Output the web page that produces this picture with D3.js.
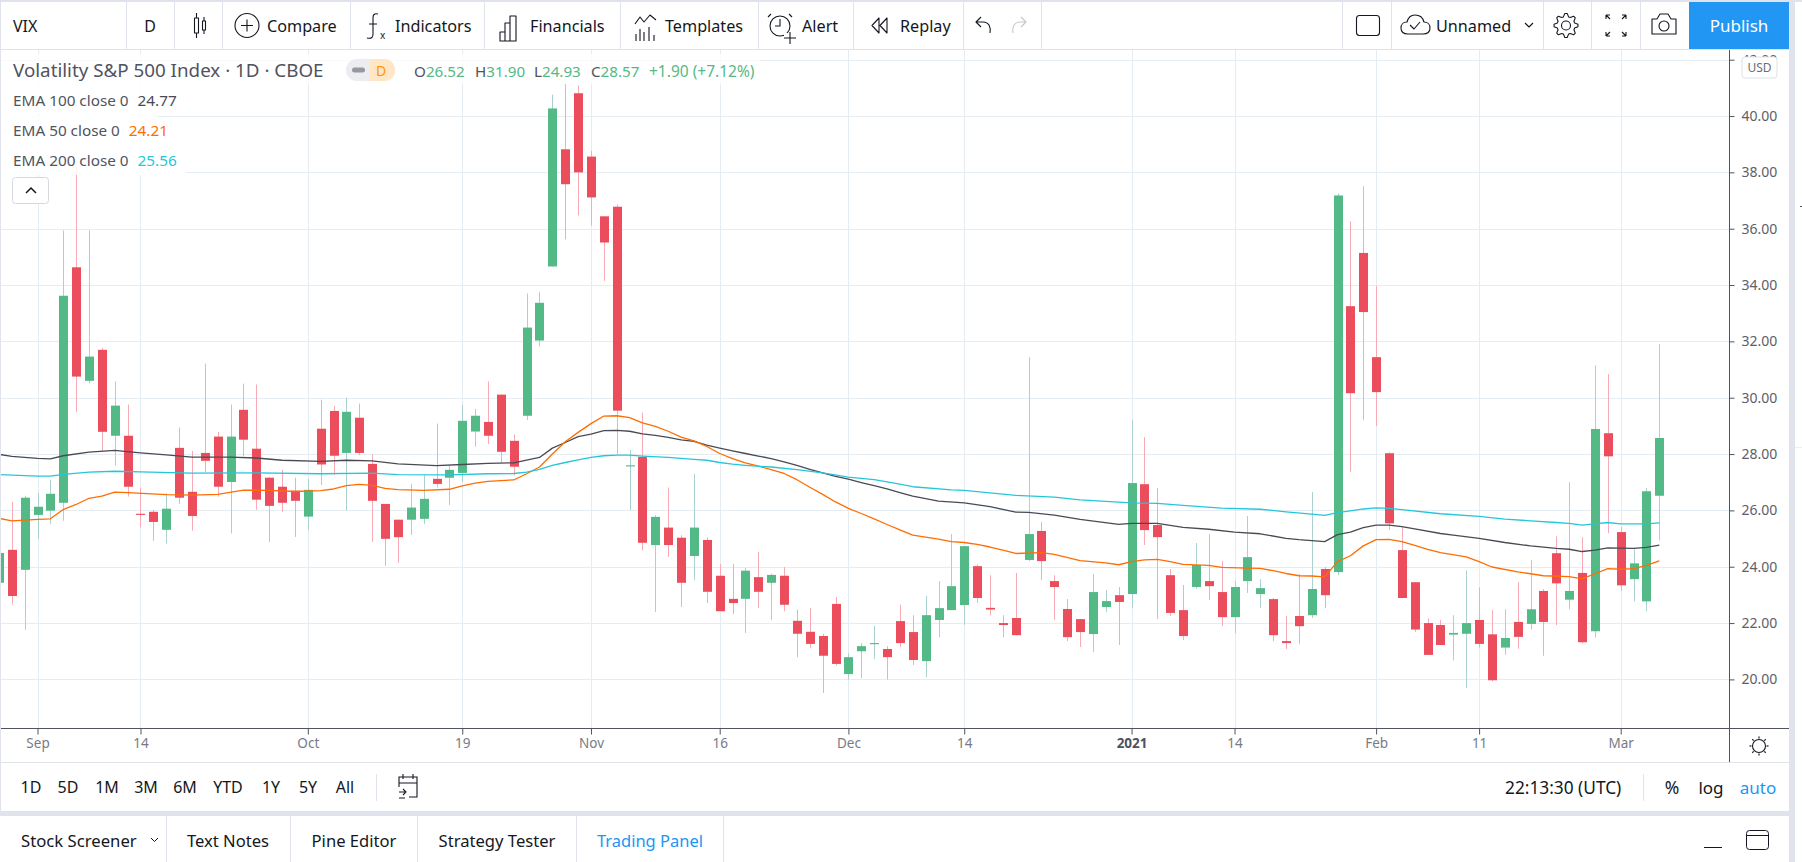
<!DOCTYPE html>
<html>
<head>
<meta charset="utf-8">
<title>VIX</title>
<script src="https://cdn.jsdelivr.net/npm/d3@7/dist/d3.min.js"></script>
<style>
html, body { margin: 0; padding: 0; background: #fff; overflow: hidden; }
svg { display: block; }
text { font-family: "Noto Sans", sans-serif; }
</style>
</head>
<body>
<div id="chart"></div>
<script>
// daily candles (bar 0 is the cut one at the left edge)
const opens = [23.43,24.60,23.89,25.84,25.99,26.27,34.63,30.60,31.70,28.65,28.65,25.88,25.95,25.31,28.22,26.66,28.04,28.62,27.01,29.57,
  28.19,27.16,26.84,26.70,25.78,28.90,29.53,28.04,29.29,27.65,26.23,25.67,25.67,25.70,27.12,27.16,27.33,28.80,29.14,30.11,
  28.47,29.36,32.03,34.66,38.82,40.81,38.56,36.44,36.78,27.56,27.90,24.77,25.39,25.03,24.38,24.95,23.68,22.86,22.86,23.63,
  23.43,23.68,22.08,21.69,21.54,22.68,20.19,21.00,21.25,21.08,22.07,21.68,20.65,22.11,22.46,22.64,24.02,22.54,22.00,22.18,
  24.24,25.27,23.49,22.50,22.14,21.61,22.57,22.99,23.03,26.93,25.48,23.70,22.46,23.28,23.49,23.10,22.21,23.49,23.03,22.85,
  21.36,22.25,22.28,23.92,23.81,33.25,35.14,31.44,28.03,24.59,23.45,22.00,21.93,21.59,21.62,22.11,21.60,21.13,22.04,21.97,
  23.14,24.48,22.83,23.78,21.71,28.74,25.23,23.56,22.77,26.52];
const highs = [24.60,26.30,26.52,26.62,27.09,35.94,38.20,35.94,31.77,30.58,29.76,26.81,26.02,26.61,28.94,28.11,31.21,28.79,29.76,30.50,
  30.47,27.18,27.44,27.16,27.12,29.93,29.72,30.00,29.79,27.99,26.23,25.67,26.94,27.25,29.08,27.60,29.74,29.60,30.58,30.11,
  28.69,33.70,33.76,40.76,41.15,41.09,38.77,36.44,36.86,28.14,29.47,25.83,26.81,25.12,27.30,25.04,24.10,24.10,23.95,24.53,
  23.75,23.99,22.48,22.54,21.62,22.93,20.93,21.29,21.90,21.18,22.65,22.28,22.96,23.49,25.16,24.73,24.08,23.70,22.28,23.78,
  31.44,25.59,23.70,22.85,22.14,23.74,23.17,23.28,29.21,28.60,26.79,23.92,23.35,24.84,25.16,24.20,23.49,25.80,23.56,22.89,
  22.25,23.74,26.65,24.00,37.25,36.26,37.51,33.97,28.06,25.41,23.45,22.17,22.11,22.28,23.87,23.27,22.46,22.49,23.45,24.24,
  23.21,25.08,27.00,25.05,31.15,30.84,25.41,24.63,26.79,31.90];
const lows = [23.40,22.66,21.76,24.99,25.52,25.63,29.49,30.51,28.10,27.59,26.49,25.40,24.92,24.82,26.23,25.28,27.37,26.49,25.18,27.92,
  26.02,24.88,25.95,25.06,25.31,26.90,27.26,25.99,27.96,24.88,24.03,24.14,25.13,25.52,26.81,26.19,27.02,28.26,28.36,27.69,
  27.24,29.21,31.82,34.66,35.62,36.47,36.11,34.15,28.00,26.01,24.58,22.39,24.35,22.57,23.53,22.71,22.42,22.32,21.65,22.54,
  22.11,22.42,20.79,21.12,19.52,20.49,19.99,20.04,20.72,19.99,21.15,20.51,20.08,21.50,22.46,21.93,22.71,22.28,21.50,21.57,
  24.20,23.53,22.11,21.36,21.15,20.97,22.39,21.22,22.53,24.77,22.14,22.25,21.40,23.21,22.82,21.89,21.64,23.07,22.53,21.36,
  21.08,21.25,22.18,22.53,23.70,27.38,29.20,28.99,25.31,22.89,21.68,20.87,21.22,20.67,19.70,21.13,19.93,20.87,21.09,21.78,
  20.84,21.93,22.49,21.29,21.49,25.19,23.14,22.77,22.42,24.93];
const closes = [24.49,22.96,26.45,26.13,26.59,33.62,30.75,31.46,28.79,29.72,26.84,25.84,25.59,26.06,26.45,25.80,27.76,26.84,28.62,28.51,
  26.38,26.16,26.27,26.34,26.73,27.63,27.94,29.50,28.04,26.34,24.99,25.05,26.10,26.41,26.94,27.44,29.18,29.36,28.65,28.08,
  27.55,32.49,33.37,40.27,37.58,38.00,37.11,35.51,29.54,27.60,24.85,25.77,24.77,23.43,25.39,23.11,22.42,22.71,23.86,23.11,
  23.71,22.65,21.62,21.26,20.84,20.55,20.79,21.18,21.29,20.79,21.29,20.69,22.28,22.53,23.31,24.73,22.89,22.48,21.93,21.57,
  25.16,24.20,23.28,21.50,21.68,23.10,22.78,22.75,26.97,25.30,25.05,22.36,21.54,24.06,23.31,22.21,23.28,24.34,23.24,21.57,
  21.29,21.89,23.21,22.99,37.18,30.16,33.04,30.20,25.54,22.89,21.77,20.87,21.22,21.65,22.00,21.26,19.97,21.47,21.51,22.49,
  22.04,23.41,23.14,21.32,28.89,27.92,23.34,24.12,26.68,28.57];

// moving averages, read at the bars where the line bends
const ema100Bars = [0,1,3,4,5,7,9,11,13,15,18,20,22,25,27,29,31,34,36,38,40,42,43,44,45,46,47,48,49,50,51,52,53,54,55,56,57,58,59,60,61,62,63,64,65,66,67,68,69,70,71,73,75,77,79,80,82,84,87,88,90,92,94,96,98,100,101,103,104,105,106,107,108,109,110,112,113,115,117,119,121,122,123,124,125,127,128,129];
const ema100 = [27.99,27.92,27.85,27.83,27.94,28.07,28.13,28.04,27.97,27.89,27.89,27.86,27.78,27.74,27.78,27.76,27.65,27.59,27.63,27.67,27.69,27.88,28.21,28.41,28.62,28.71,28.83,28.84,28.81,28.72,28.66,28.59,28.50,28.45,28.32,28.21,28.11,28.02,27.93,27.84,27.72,27.60,27.46,27.33,27.21,27.11,26.99,26.88,26.76,26.63,26.51,26.33,26.27,26.13,25.94,25.93,25.83,25.68,25.50,25.54,25.54,25.40,25.33,25.23,25.17,25.01,24.96,24.89,25.14,25.23,25.39,25.48,25.48,25.42,25.34,25.18,25.12,25.01,24.86,24.74,24.65,24.62,24.54,24.59,24.67,24.65,24.69,24.77];
const ema50Bars = [0,1,3,4,5,6,7,8,9,10,13,15,17,19,21,23,25,26,27,28,29,30,31,33,35,36,37,38,39,40,41,42,43,44,45,46,47,48,49,50,51,52,53,54,55,56,57,58,59,60,61,62,63,64,65,66,67,68,69,70,71,73,74,75,76,77,78,79,81,82,84,86,87,88,89,90,91,92,94,95,97,98,99,100,101,102,103,104,105,106,107,108,109,110,111,112,114,115,116,118,120,122,123,124,125,126,127,128,129];
const ema50 = [25.72,25.63,25.68,25.70,26.03,26.21,26.43,26.51,26.65,26.63,26.56,26.54,26.57,26.72,26.71,26.67,26.70,26.76,26.88,26.92,26.89,26.78,26.74,26.71,26.75,26.87,26.97,27.03,27.06,27.08,27.30,27.54,28.00,28.44,28.77,29.08,29.35,29.36,29.29,29.11,28.98,28.81,28.60,28.47,28.27,28.02,27.84,27.69,27.57,27.45,27.31,27.09,26.82,26.57,26.30,26.07,25.89,25.70,25.50,25.31,25.12,24.98,24.89,24.86,24.79,24.70,24.59,24.47,24.50,24.44,24.22,24.14,24.07,24.18,24.24,24.26,24.18,24.08,24.05,23.98,23.95,23.94,23.86,23.76,23.68,23.67,23.64,24.18,24.39,24.74,24.96,24.97,24.89,24.76,24.62,24.50,24.35,24.18,23.99,23.82,23.68,23.65,23.57,23.75,23.93,23.91,23.93,24.05,24.21];
const ema200Bars = [0,3,4,5,7,9,11,15,20,25,29,31,35,38,40,41,42,43,44,45,46,47,48,49,50,52,54,55,56,57,58,60,62,64,66,68,70,71,74,75,79,82,84,88,90,92,95,98,100,102,103,104,105,106,107,108,109,112,115,117,119,121,122,123,124,125,126,128,129];
const ema200 = [27.27,27.22,27.22,27.28,27.36,27.39,27.37,27.32,27.33,27.30,27.32,27.27,27.26,27.30,27.31,27.36,27.46,27.60,27.70,27.79,27.88,27.94,27.96,27.96,27.93,27.88,27.81,27.78,27.70,27.64,27.60,27.54,27.45,27.33,27.18,27.09,26.93,26.84,26.73,26.71,26.53,26.47,26.37,26.27,26.25,26.18,26.08,26.04,25.95,25.87,25.82,25.92,25.98,26.05,26.09,26.07,26.03,25.88,25.79,25.69,25.63,25.57,25.54,25.48,25.52,25.57,25.52,25.52,25.56];

const priceTicks = [20,22,24,26,28,30,32,34,36,38,40,42];
const timeTickBars = [3,11,24,36,46,56,66,75,88,96,107,115,126];
const timeTickLabels = ["Sep","14","Oct","19","Nov","16","Dec","14","2021","14","Feb","11","Mar"];

const ranges = ["1D","5D","1M","3M","6M","YTD","1Y","5Y","All"];
const rangeCenters = [31,68,107,146,185,228,271,308,345];
const tabs = ["Text Notes","Pine Editor","Strategy Tester"];
const tabCenters = [228,354,497];
const toolbarLabels = ["Compare","Indicators","Financials","Templates","Alert","Replay"];
const toolbarStarts = [267,395,530,665,802,900];
const toolbarSeps = [126,174,222,350,484,620,758,853,963,1041,1342,1391,1543,1591,1640];
const bottomTabSeps = [166,290,417,576,723];
const legendNames = ["EMA 100 close 0","EMA 50 close 0","EMA 200 close 0"];
const legendValues = ["24.77","24.21","25.56"];

const width = 1802, height = 862;
const chartRight = 1729, chartTop = 50, chartBottom = 728, outerRight = 1789;
const green = "#53b987", red = "#eb4d5c", greenWick = "#a9d2d0", redWick = "#f8abb5";
const grid = "#e6edf2", ink = "#131722", soft = "#787b86", border = "#e0e3eb";
const emaColors = ["#4a4a55", "#ff6d00", "#26c6da"];

const svg = d3.select("#chart").append("svg")
  .attr("width", width)
  .attr("height", height);

const defs = svg.append("defs");
defs.append("clipPath").attr("id", "plot")
  .append("rect").attr("x", 0).attr("y", chartTop).attr("width", chartRight).attr("height", chartBottom - chartTop);
defs.append("clipPath").attr("id", "scale")
  .append("rect").attr("x", 0).attr("y", chartTop).attr("width", 60).attr("height", chartBottom - chartTop);

const x = d3.scaleLinear().domain([0, 129]).range([-1.1, 1659.3]);
const y = d3.scaleLinear().domain([20, 42]).range([679.4, 59.7]);
const crisp = v => Math.round(v) + 0.5;

function label(parent, tx, ty, str, opts = {}) {
  return parent.append("text")
    .attr("x", tx).attr("y", ty)
    .attr("dominant-baseline", "central")
    .attr("text-anchor", opts.anchor || "start")
    .attr("fill", opts.fill || ink)
    .attr("font-size", opts.size || 15)
    .attr("font-weight", opts.weight || 400)
    .text(str);
}

// grid
const gridG = svg.append("g").attr("clip-path", "url(#plot)");
gridG.selectAll("line.h").data(priceTicks).join("line").attr("class", "h")
  .attr("x1", 0).attr("x2", chartRight)
  .attr("y1", d => crisp(y(d))).attr("y2", d => crisp(y(d)))
  .attr("stroke", grid);
gridG.selectAll("line.v").data(timeTickBars).join("line").attr("class", "v")
  .attr("x1", d => crisp(x(d))).attr("x2", d => crisp(x(d)))
  .attr("y1", chartTop).attr("y2", chartBottom)
  .attr("stroke", grid);

// candles
const bars = d3.range(opens.length);
const candleG = svg.append("g").attr("clip-path", "url(#plot)");
candleG.selectAll("line.wick").data(bars).join("line").attr("class", "wick")
  .attr("x1", i => crisp(x(i))).attr("x2", i => crisp(x(i)))
  .attr("y1", i => y(highs[i])).attr("y2", i => y(lows[i]))
  .attr("stroke", i => closes[i] >= opens[i] ? greenWick : redWick);
candleG.selectAll("rect").data(bars).join("rect")
  .attr("x", i => Math.round(x(i)) - 4)
  .attr("width", 9)
  .attr("y", i => y(Math.max(opens[i], closes[i])))
  .attr("height", i => Math.max(1, Math.abs(y(opens[i]) - y(closes[i]))))
  .attr("fill", i => closes[i] >= opens[i] ? green : red);

// moving averages
const emaLine = d3.line().x(d => x(d[0])).y(d => y(d[1]));
[[ema100Bars, ema100], [ema50Bars, ema50], [ema200Bars, ema200]].forEach(([b, v], k) => {
  candleG.append("path")
    .datum(b.map((d, i) => [d, v[i]]))
    .attr("fill", "none")
    .attr("stroke", emaColors[k])
    .attr("stroke-width", 1.3)
    .attr("stroke-linejoin", "round")
    .attr("d", emaLine);
});

// price scale
const yAxis = svg.append("g")
  .attr("transform", `translate(${chartRight + 0.5},0)`)
  .attr("clip-path", "url(#scale)")
  .call(d3.axisRight(y).tickValues(priceTicks).tickFormat(d3.format(".2f")).tickSize(5).tickPadding(7));
yAxis.select(".domain").remove();
yAxis.selectAll("line").attr("stroke", "#50535e");
yAxis.selectAll("text").attr("fill", "#5d606b").attr("font-size", 14).attr("font-family", '"Noto Sans", sans-serif');

// time scale
const xAxis = svg.append("g")
  .attr("transform", `translate(0,${chartBottom + 0.5})`)
  .call(d3.axisBottom(x).tickValues(timeTickBars).tickFormat((d, i) => timeTickLabels[i]).tickSize(6).tickPadding(4));
xAxis.select(".domain").remove();
xAxis.selectAll("line").attr("stroke", "#50535e");
xAxis.selectAll("text").attr("font-size", 13.5).attr("font-family", '"Noto Sans", sans-serif')
  .attr("font-weight", (d, i) => timeTickLabels[i] === "2021" ? 700 : 400)
  .attr("fill", (d, i) => timeTickLabels[i] === "2021" ? "#4c525e" : soft);

svg.append("line").attr("x1", 0).attr("x2", outerRight).attr("y1", chartBottom + 0.5).attr("y2", chartBottom + 0.5).attr("stroke", "#50535e");
svg.append("line").attr("x1", chartRight + 0.5).attr("x2", chartRight + 0.5).attr("y1", chartTop).attr("y2", 762).attr("stroke", "#50535e");

// USD box
svg.append("rect").attr("x", 1742).attr("y", 57).attr("width", 35).attr("height", 21).attr("rx", 3)
  .attr("fill", "#fff").attr("stroke", "#dfe1e8");
label(svg, 1759.5, 67.5, "USD", { anchor: "middle", size: 12, fill: "#6a6d78" });

// legend
[[84, 178], [115, 158], [145, 186]].forEach(([rowTop, w]) => {
  svg.append("rect").attr("x", 0).attr("y", rowTop).attr("width", w).attr("height", 30).attr("fill", "#fff").attr("fill-opacity", 0.85);
});
svg.append("rect").attr("x", 0).attr("y", 54).attr("width", 760).attr("height", 30).attr("fill", "#fff").attr("fill-opacity", 0.7);
label(svg, 13, 70, "Volatility S&P 500 Index · 1D · CBOE", { size: 18.8, fill: "#50535e" });
svg.append("rect").attr("x", 346).attr("y", 59).attr("width", 49).attr("height", 22).attr("rx", 11).attr("fill", "#ebedf1");
svg.append("path").attr("d", "M370 59h14a11 11 0 0 1 0 22h-14z").attr("fill", "#ffe6c4");
svg.append("rect").attr("x", 352).attr("y", 67.5).attr("width", 13).attr("height", 5).attr("rx", 2.5).attr("fill", "#9598a1");
label(svg, 381, 70, "D", { anchor: "middle", size: 14, fill: "#ff9800" });
const ohlcLetters = ["O", "H", "L", "C"], ohlcVals = ["26.52", "31.90", "24.93", "28.57"], ohlcX = [414, 475, 534, 591];
ohlcLetters.forEach((c, i) => {
  const t = label(svg, ohlcX[i], 71, c, { size: 15.2, fill: "#50535e" });
  t.append("tspan").attr("fill", green).text(ohlcVals[i]);
});
label(svg, 649, 71, "+1.90 (+7.12%)", { size: 15.5, fill: green });
legendNames.forEach((n, i) => {
  const t = label(svg, 13, 100 + i * 30, n, { size: 15.3, fill: "#50535e" });
  t.append("tspan").attr("dx", 9).attr("fill", emaColors[i]).text(legendValues[i]);
});
svg.append("rect").attr("x", 12.5).attr("y", 177.5).attr("width", 36).attr("height", 26).attr("rx", 3)
  .attr("fill", "#fff").attr("stroke", "#d6d8e0");
svg.append("path").attr("d", "M26 193l5-5 5 5").attr("fill", "none").attr("stroke", ink).attr("stroke-width", 1.5);

// top toolbar
const toolbar = svg.append("g");
toolbar.append("rect").attr("width", outerRight).attr("height", 50).attr("fill", "#fff");
toolbar.append("rect").attr("width", width).attr("height", 2).attr("fill", border);
toolbar.append("line").attr("x1", 0).attr("x2", outerRight).attr("y1", 49.5).attr("y2", 49.5).attr("stroke", border);
toolbar.selectAll("line.sep").data(toolbarSeps).join("line").attr("class", "sep")
  .attr("x1", d => d + 0.5).attr("x2", d => d + 0.5).attr("y1", 2).attr("y2", 49)
  .attr("stroke", border);
label(toolbar, 13, 25.5, "VIX", { size: 16 });
label(toolbar, 150, 25.5, "D", { size: 16, anchor: "middle" });
toolbarLabels.forEach((n, i) => label(toolbar, toolbarStarts[i], 25.5, n, { size: 16.2 }));
label(toolbar, 1436, 25.5, "Unnamed", { size: 16.2 });
toolbar.append("rect").attr("x", 1689).attr("y", 2).attr("width", 100).attr("height", 47).attr("fill", "#2196f3");
label(toolbar, 1739, 25.5, "Publish", { size: 17, anchor: "middle", fill: "#fff" });

// toolbar icons
function icon(d, opts = {}) {
  return toolbar.append("path").attr("d", d).attr("fill", opts.fill || "none")
    .attr("stroke", opts.stroke || ink).attr("stroke-width", opts.w || 1.1).attr("stroke-linejoin", "round");
}
function ring(cx, cy, r) {
  return toolbar.append("circle").attr("cx", cx).attr("cy", cy).attr("r", r)
    .attr("fill", "none").attr("stroke", ink).attr("stroke-width", 1.1);
}
icon("M194.5 18h4v15h-4zM196.5 13v5M196.5 33v5M202.5 21h3v9h-3zM204 17v4M204 30v4");
ring(247, 25.5, 12);
icon("M241 25.5h12M247 19.5v12");
icon("M378 14c-4-1-5 1-5 4v16c0 3-1 5-6 4M369 24h8");
label(toolbar, 380, 35, "x", { size: 10 });
icon("M500 41v-9h5v9zM505 41V23h5v18zM510 41V16h6v25z");
icon("M635 24l5-7 4 5 6-7 6 5");
icon("M636 41v-7M640 41V29M644 41v-9M649 41V27M654 41v-6");
ring(780, 26, 10);
icon("M780 19v7h-5M771 14l-3 3M789 14l3 3");
toolbar.append("rect").attr("x", 784).attr("y", 33).attr("width", 12).attr("height", 10).attr("fill", "#fff");
icon("M790 32v12M784 38h12");
icon("M879 18l-7 7.5 7 7.5zM887 18l-7 7.5 7 7.5z");
icon("M990 33c1-6-1-11-7-11h-7M981 17l-5 5 5 5");
icon("M1013 33c-1-6 1-11 7-11h6M1021 17l5 5-5 5", { stroke: "#c4c6cd" });
toolbar.append("rect").attr("x", 1356.5).attr("y", 15.5).attr("width", 23).attr("height", 20).attr("rx", 3).attr("fill", "none").attr("stroke", ink).attr("stroke-width", 1.1);
icon("M1408 34c-5 0-7-3-7-6s2-6 6-6c1-4 4-7 8-7 5 0 8 3 9 7 4 0 6 3 6 6s-2 6-7 6zM1410 25l4 4 6-7");
icon("M1525 23l4 4 4-4");
ring(1566, 25.5, 4.5);
// cog outline, eight teeth
const cogPoints = d3.range(32).map(i => {
  const a = (i - 0.5) * Math.PI / 16, r = (i % 4 < 2) ? 12 : 9;
  return [a, r];
});
toolbar.append("path")
  .attr("transform", "translate(1566,25.5)")
  .attr("d", d3.lineRadial().angle(d => d[0]).radius(d => d[1]).curve(d3.curveLinearClosed)(cogPoints))
  .attr("fill", "none").attr("stroke", ink).attr("stroke-width", 1.1).attr("stroke-linejoin", "round");
icon("M1606 15l4 4M1606 15h4M1606 15v4M1626 15l-4 4M1626 15h-4M1626 15v4M1606 36l4-4M1606 36h4M1606 36v-4M1626 36l-4-4M1626 36h-4M1626 36v-4");
icon("M1652 19h5l3-5h8l3 5h5v15h-24z");
ring(1664, 26, 5);

// sun in the corner of the scales
const sun = svg.append("g").attr("transform", "translate(1759,746)");
sun.append("circle").attr("r", 6.5).attr("fill", "none").attr("stroke", ink).attr("stroke-width", 1.1);
sun.selectAll("line").data(d3.range(8)).join("line")
  .attr("x1", d => 7.5 * Math.cos(d * Math.PI / 4)).attr("y1", d => 7.5 * Math.sin(d * Math.PI / 4))
  .attr("x2", d => 9.5 * Math.cos(d * Math.PI / 4)).attr("y2", d => 9.5 * Math.sin(d * Math.PI / 4))
  .attr("stroke", ink).attr("stroke-width", 1.2);

// range bar
svg.append("line").attr("x1", 0).attr("x2", outerRight).attr("y1", 762.5).attr("y2", 762.5).attr("stroke", border);
ranges.forEach((r, i) => label(svg, rangeCenters[i], 787, r, { anchor: "middle", size: 16 }));
svg.append("line").attr("x1", 376.5).attr("x2", 376.5).attr("y1", 774).attr("y2", 801).attr("stroke", border);
svg.append("path").attr("d", "M399 787v-10h18v20h-8M403 774v5M413 774v5M399 783h18M399 792h6M403 789l3 3-3 3M399 798h6")
  .attr("fill", "none").attr("stroke", ink).attr("stroke-width", 1.1);
label(svg, 1505, 787, "22:13:30 (UTC)", { size: 17.3 });
svg.append("line").attr("x1", 1643.5).attr("x2", 1643.5).attr("y1", 774).attr("y2", 801).attr("stroke", border);
label(svg, 1672, 787, "%", { anchor: "middle", size: 17.5 });
label(svg, 1711, 787, "log", { anchor: "middle", size: 17 });
label(svg, 1758, 787, "auto", { anchor: "middle", size: 17, fill: "#2196f3" });

// bands between the panels
svg.append("rect").attr("x", 0).attr("y", 811).attr("width", outerRight + 6).attr("height", 5).attr("fill", border);
svg.append("rect").attr("x", outerRight).attr("y", 2).attr("width", 6).attr("height", height).attr("fill", border);
svg.append("rect").attr("x", 0).attr("y", 2).attr("width", 1).attr("height", 809).attr("fill", border);
svg.append("line").attr("x1", 1795).attr("x2", width).attr("y1", 447.5).attr("y2", 447.5).attr("stroke", "#eceef2");
svg.append("rect").attr("x", 1800).attr("y", 206).attr("width", 2).attr("height", 1).attr("fill", "#50535e");

// bottom panel
svg.selectAll("line.tabsep").data(bottomTabSeps).join("line").attr("class", "tabsep")
  .attr("x1", d => d + 0.5).attr("x2", d => d + 0.5).attr("y1", 816).attr("y2", height)
  .attr("stroke", border);
label(svg, 21, 840, "Stock Screener", { size: 16.7 });
svg.append("path").attr("d", "M151 838l3.5 3.5 3.5-3.5").attr("fill", "none").attr("stroke", ink);
tabs.forEach((n, i) => label(svg, tabCenters[i], 840, n, { anchor: "middle", size: 16.6 }));
label(svg, 650, 840, "Trading Panel", { anchor: "middle", size: 16.5, fill: "#2196f3" });
svg.append("line").attr("x1", 1704).attr("x2", 1722).attr("y1", 847.5).attr("y2", 847.5).attr("stroke", ink);
svg.append("rect").attr("x", 1746.5).attr("y", 830.5).attr("width", 22).attr("height", 19).attr("rx", 3).attr("fill", "none").attr("stroke", ink);
svg.append("line").attr("x1", 1746.5).attr("x2", 1768.5).attr("y1", 835.5).attr("y2", 835.5).attr("stroke", ink);
</script>
</body>
</html>
